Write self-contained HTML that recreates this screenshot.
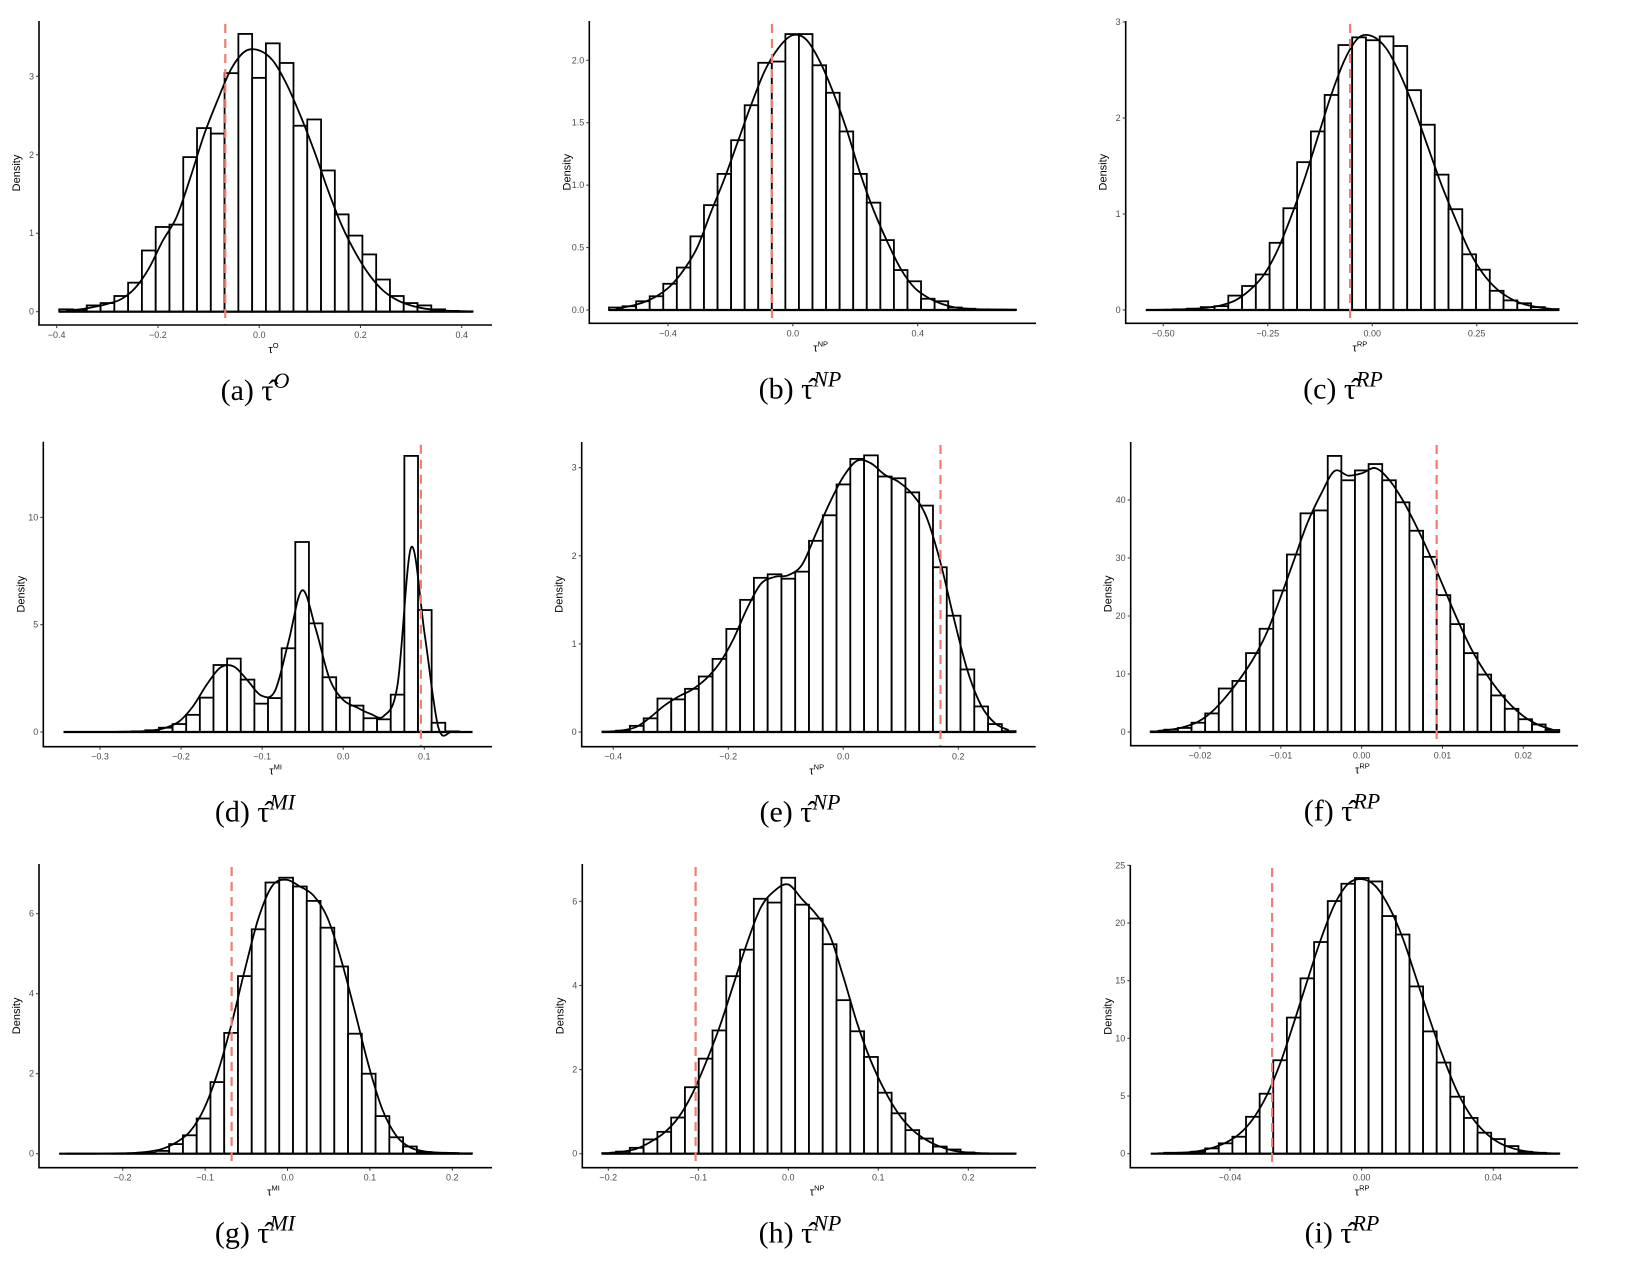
<!DOCTYPE html>
<html><head><meta charset="utf-8"><style>
html,body{margin:0;padding:0;background:#fff;}
svg{display:block;}
.tick{font-family:"Liberation Sans",sans-serif;font-size:9px;fill:#4d4d4d;}
.ttl{font-family:"Liberation Sans",sans-serif;font-size:11px;fill:#000;}
.cap{font-family:"Liberation Serif","DejaVu Serif",serif;font-size:30px;fill:#000;}
</style></head><body>
<svg id="fig" width="1636" height="1278" viewBox="0 0 1636 1278" xmlns="http://www.w3.org/2000/svg"></svg>
<script>
// ---- data (density units) ----
const rangeA=[-0.395,0.4216];
const barsA=[.03,.02,.08,.11,.2,.37,.78,1.08,1.11,1.97,2.34,2.27,3.04,3.54,2.98,3.42,3.17,2.37,2.45,1.8,1.24,.97,.73,.41,.2,.11,.08,.03,.01,.005];
const densA=[.02,.03,.06,.1,.16,.3,.55,.9,1.2,1.7,2.25,2.7,3.1,3.32,3.33,3.2,2.9,2.5,2.05,1.55,1.1,.75,.47,.27,.15,.08,.04,.02,.01,.005];
const xticksA=["-0.4","-0.2","0.0","0.2","0.4"];const yticksA=["0","1","2","3"];const refA=-0.067;

const rangeB=[-0.589,0.715];
const barsB=[.02,.03,.07,.11,.21,.34,.59,.84,1.09,1.36,1.64,1.98,1.99,2.21,2.21,1.96,1.74,1.43,1.09,.86,.56,.32,.23,.09,.07,.02,.01,.005,.003,.003];
const densB=[.01,.03,.06,.11,.19,.32,.5,.78,1.05,1.35,1.65,1.92,2.1,2.2,2.17,2.0,1.75,1.45,1.1,.8,.55,.33,.18,.1,.05,.02,.01,.005,.003,.002];
const xticksB=["-0.4","0.0","0.4"];const yticksB=["0.0","0.5","1.0","1.5","2.0"];const refB=-0.067;

const rangeC=[-0.542,0.446];
const barsC=[0,0,.007,.014,.03,.04,.15,.25,.37,.7,1.06,1.54,1.86,2.24,2.76,2.84,2.81,2.85,2.75,2.29,1.93,1.41,1.05,.58,.42,.2,.1,.07,.03,.01];
const densC=[.001,.003,.006,.012,.025,.05,.1,.2,.35,.6,.95,1.35,1.8,2.25,2.62,2.84,2.85,2.72,2.45,2.1,1.7,1.3,.95,.62,.38,.22,.12,.06,.03,.01];
const xticksC=["-0.50","-0.25","0.00","0.25"];const yticksC=["0","1","2","3"];const refC=-0.053;

const rangeD=[-0.345,0.1595];
const barsD=[0,0,0,0,.01,.03,.08,.2,.37,.8,1.6,3.12,3.42,2.44,1.32,1.58,3.9,8.85,5.06,2.55,1.6,1.23,.64,.59,1.74,12.86,5.68,.43,.03,0];
const densD=[0,0,0,.003,.01,.03,.07,.2,.5,1.2,2.2,3.0,3.05,2.4,1.7,1.9,4.2,6.6,4.8,2.5,1.5,1.15,.85,.75,2.2,8.6,4.5,.2,.02,0];
const xticksD=["-0.3","-0.2","-0.1","0.0","0.1"];const yticksD=["0","5","10"];const refD=0.0958;

const rangeE=[-0.419,0.2997];
const barsE=[.005,.015,.07,.155,.38,.37,.49,.63,.83,1.17,1.5,1.75,1.79,1.74,1.82,2.17,2.46,2.81,3.1,3.14,2.9,2.88,2.72,2.57,1.87,1.32,.71,.29,.09,.01];
const densE=[.005,.02,.06,.17,.3,.4,.48,.6,.78,1.05,1.4,1.68,1.76,1.78,1.9,2.25,2.6,2.9,3.08,3.05,2.92,2.84,2.7,2.45,1.95,1.3,.7,.3,.1,.02];
const xticksE=["-0.4","-0.2","0.0","0.2"];const yticksE=["0","1","2","3"];const refE=0.169;

const rangeF=[-0.0261,0.02445];
const barsF=[.1,.4,.7,1.6,3.2,7.5,8.8,13.6,17.8,24.4,30.6,37.7,38.2,47.6,43.4,45.1,46.2,43.4,39.6,34.7,30.2,23.6,18.6,13.6,9.9,6.3,4.0,2.2,1.3,.35];
const densF=[.2,.4,.9,1.8,3.5,6,9,12.5,17,23,29.5,36,41,45,44.2,44.6,45.5,43.5,40,35.5,30.5,25,19.5,14.5,10.5,7.2,4.5,2.5,1.2,.4];
const xticksF=["-0.02","-0.01","0.00","0.01","0.02"];const yticksF=["0","10","20","30","40"];const refF=0.00928;

const rangeG=[-0.2772,0.2238];
const barsG=[0,0,0,0,.005,.01,.02,.07,.24,.46,.88,1.79,3.02,4.44,5.61,6.78,6.9,6.68,6.32,5.65,4.68,3.0,2.0,.94,.41,.18,.04,.02,.015,.01];
const densG=[0,0,0,.003,.01,.02,.05,.12,.28,.55,1.1,2.0,3.2,4.6,5.9,6.7,6.85,6.68,6.45,5.9,4.85,3.55,2.2,1.1,.45,.16,.06,.03,.02,.005];
const xticksG=["-0.2","-0.1","0.0","0.1","0.2"];const yticksG=["0","2","4","6"];const refG=-0.0678;

const rangeH=[-0.2067,0.2526];
const barsH=[.015,.05,.14,.34,.52,.86,1.58,2.26,2.93,4.22,4.85,6.06,5.97,6.56,5.92,5.59,4.98,3.65,2.91,2.3,1.45,.96,.56,.36,.17,.1,.03,.01,.005,.005];
const densH=[.02,.05,.12,.28,.5,.85,1.4,2.15,3.0,4.0,5.0,5.85,6.25,6.4,6.05,5.7,5.2,4.2,3.1,2.2,1.5,.95,.57,.33,.17,.07,.03,.01,.005,.002];
const xticksH=["-0.2","-0.1","0.0","0.1","0.2"];const yticksH=["0","2","4","6"];const refH=-0.103;

const rangeI=[-0.0641,0.06005];
const barsI=[0,.08,.08,.17,.46,.9,1.47,3.2,5.2,8.1,11.8,15.2,18.35,21.9,23.4,23.9,23.6,20.6,19.0,14.5,10.6,7.9,4.94,3.1,1.82,1.27,.66,.17,.08,.03];
const densI=[.03,.05,.1,.22,.5,.95,1.7,3.0,5.0,7.8,11.3,15.0,18.6,21.6,23.4,23.8,23.2,21.4,18.7,15.2,11.6,8.3,5.4,3.3,1.9,1.0,.5,.22,.08,.03];
const xticksI=["-0.04","0.00","0.04"];const yticksI=["0","5","10","15","20","25"];const refI=-0.0272;

// ---- layout (pixel calibration per panel) ----
const panels=[
 {id:"a",title:"O",cap:"(a)",sup:"O",range:rangeA,bars:barsA,dens:densA,xt:xticksA,yt:yticksA,ref:refA,cx:[-0.4,56.7,0.4,461.7],cy:[0,311.7,3,76.3],box:[39,21,492,325],capX:255},
 {id:"b",title:"NP",cap:"(b)",sup:"NP",range:rangeB,bars:barsB,dens:densB,xt:xticksB,yt:yticksB,ref:refB,cx:[-0.4,668,0.4,917.7],cy:[0,310,2,60.3],box:[589.3,21,1036,323.3],capX:800},
 {id:"c",title:"RP",cap:"(c)",sup:"RP",range:rangeC,bars:barsC,dens:densC,xt:xticksC,yt:yticksC,ref:refC,cx:[-0.5,1163.3,0.25,1476.7],cy:[0,310,3,22],box:[1125.7,21,1578,323.3],capX:1343},
 {id:"d",title:"MI",cap:"(d)",sup:"MI",range:rangeD,bars:barsD,dens:densD,xt:xticksD,yt:yticksD,ref:refD,cx:[-0.3,100,0.1,424.3],cy:[0,732,10,517.3],box:[43.3,441.7,492,746.7],capX:255},
 {id:"e",title:"NP",cap:"(e)",sup:"NP",range:rangeE,bars:barsE,dens:densE,xt:xticksE,yt:yticksE,ref:refE,cx:[-0.4,613.3,0.2,958.3],cy:[0,732,3,467.7],box:[581.7,442,1035.7,746.7],capX:800},
 {id:"f",title:"RP",cap:"(f)",sup:"RP",range:rangeF,bars:barsF,dens:densF,xt:xticksF,yt:yticksF,ref:refF,cx:[-0.02,1200,0.02,1523.3],cy:[0,732,40,500],box:[1130.7,442,1578,745.7],capX:1342},
 {id:"g",title:"MI",cap:"(g)",sup:"MI",range:rangeG,bars:barsG,dens:densG,xt:xticksG,yt:yticksG,ref:refG,cx:[-0.2,122.7,0.2,452.3],cy:[0,1153.7,6,913.7],box:[39,864,492,1167.7],capX:255},
 {id:"h",title:"NP",cap:"(h)",sup:"NP",range:rangeH,bars:barsH,dens:densH,xt:xticksH,yt:yticksH,ref:refH,cx:[-0.2,608.3,0.2,968.3],cy:[0,1153.7,6,901.3],box:[582.3,864,1036,1167.7],capX:800},
 {id:"i",title:"RP",cap:"(i)",sup:"RP",range:rangeI,bars:barsI,dens:densI,xt:xticksI,yt:yticksI,ref:refI,cx:[-0.04,1230,0.04,1493.3],cy:[0,1153.7,25,865.3],box:[1130.3,865,1578,1167.7],capX:1342}
];
const NS="http://www.w3.org/2000/svg";
const fig=document.getElementById('fig');
function mk(tag,attrs,parent){const e=document.createElementNS(NS,tag);for(const k in attrs)e.setAttribute(k,attrs[k]);(parent||fig).appendChild(e);return e;}
function lin(c){const s=(c[3]-c[1])/(c[2]-c[0]);return v=>c[1]+(v-c[0])*s;}
function spline(pts){let d="M"+pts[0][0].toFixed(2)+","+pts[0][1].toFixed(2);
 for(let i=0;i<pts.length-1;i++){const p0=pts[Math.max(0,i-1)],p1=pts[i],p2=pts[i+1],p3=pts[Math.min(pts.length-1,i+2)];
  const c1=[p1[0]+(p2[0]-p0[0])/6,p1[1]+(p2[1]-p0[1])/6],c2=[p2[0]-(p3[0]-p1[0])/6,p2[1]-(p3[1]-p1[1])/6];
  d+=" C"+c1[0].toFixed(2)+","+c1[1].toFixed(2)+" "+c2[0].toFixed(2)+","+c2[1].toFixed(2)+" "+p2[0].toFixed(2)+","+p2[1].toFixed(2);}
 return d;}
panels.forEach(p=>{
 const X=lin(p.cx),Y=lin(p.cy);const [L,T,R,B]=p.box;
 const g=mk('g',{});
 
 
 const n=p.bars.length,w=(p.range[1]-p.range[0])/n;
 p.bars.forEach((v,i)=>{const x0=X(p.range[0]+i*w),x1=X(p.range[0]+(i+1)*w),y0=Y(0),y1=Y(v);
  const r=mk('rect',{x:x0,y:Math.min(y0,y1),width:x1-x0,height:Math.abs(y0-y1),fill:'#fff',stroke:'#000','stroke-width':1.8},g);
  
  });
 const bl=mk('line',{x1:X(p.range[0]),x2:X(p.range[1]),y1:Y(0),y2:Y(0),stroke:'#000','stroke-width':2.2},g);
 
 
 const pts=p.dens.map((v,i)=>[X(p.range[0]+(i+0.5)*w),Y(v)]);
 const dl=mk('path',{d:spline(pts),fill:'none',stroke:'#000','stroke-width':1.8},g);
 
 
 const rl=mk('line',{x1:X(p.ref),x2:X(p.ref),y1:T+3,y2:B,stroke:'#F07E72','stroke-width':2.2,'stroke-dasharray':'9 6'},g);
 
 
 const ax=mk('path',{d:`M${L},${T} L${L},${B} L${R},${B}`,fill:'none',stroke:'#000','stroke-width':1.6},g);
 
 
 p.xt.forEach(t=>{const x=X(parseFloat(t));mk('line',{x1:x,x2:x,y1:B,y2:B+3,stroke:'#333','stroke-width':1},g);
  const tx=mk('text',{x:x,y:B+13,'text-anchor':'middle',class:'tick'},g);tx.textContent=t.replace('-','\u2212');
  
  });
 p.yt.forEach(t=>{const y=Y(parseFloat(t));mk('line',{x1:L-3,x2:L,y1:y,y2:y,stroke:'#333','stroke-width':1},g);
  const tx=mk('text',{x:L-5,y:y+3,'text-anchor':'end',class:'tick'},g);tx.textContent=t;
  
  });
 const yl=mk('text',{x:0,y:0,transform:`translate(${L-19},${(T+B)/2}) rotate(-90)`,'text-anchor':'middle',class:'ttl'},g);yl.textContent='Density';
 
 
 const xl=mk('text',{x:(L+R)/2+8,y:B+28,'text-anchor':'middle',class:'ttl'},g);
 
 
 const t1=mk('tspan',{},xl);t1.textContent='\u03C4';
 const t2=mk('tspan',{dy:-5,'font-size':'7.5'},xl);t2.textContent=p.title;
 const cp=mk('text',{x:p.capX,y:B+75,'text-anchor':'middle',class:'cap'},g);
 
 
 const c1=mk('tspan',{},cp);c1.textContent=p.cap+'  \u03C4\u0302';
 const c2=mk('tspan',{dy:-12,'font-size':'22','font-style':'italic'},cp);c2.textContent=p.sup;
});
</script>
</body></html>
